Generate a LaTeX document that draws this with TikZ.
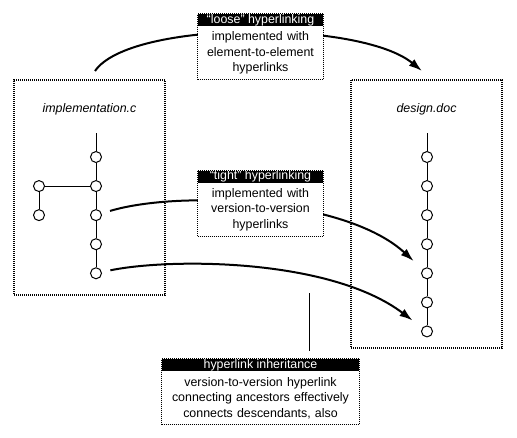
\documentclass[tikz,border=0pt]{standalone}
\usepackage{fontspec}
\setmainfont{Liberation Sans}
\usetikzlibrary{arrows.meta, positioning, fit}

\begin{document}
\begin{tikzpicture}[
    x=0.75pt, y=-0.75pt,
    docbox/.style={rectangle, draw, line width=1.5pt, dash pattern=on 0.75pt off 0.75pt, minimum width=113.25pt},
    fname/.style={font=\fontsize{9.3pt}{11.6pt}\selectfont\itshape},
    vnode/.style={circle, draw, fill=white, line width=0.75pt, inner sep=0pt, minimum size=8.25pt},
    headbar/.style={rectangle, fill=black, text=white, inner sep=0pt, minimum width=#1, text height=7pt, text depth=2pt, font=\fontsize{9.3pt}{11.6pt}\selectfont},
    notebody/.style={rectangle, fill=white, inner xsep=0pt, inner ysep=0pt, text width=#1, minimum height=39.75pt, align=center, font=\fontsize{9.3pt}{11.6pt}\selectfont},
    noteframe/.style={rectangle, draw, line width=0.75pt, dash pattern=on 0.75pt off 0.75pt, inner sep=0pt},
    vlink/.style={draw, line width=0.75pt},
    hyper/.style={draw, -{Latex[length=10pt, width=6.5pt]}, line width=1.5pt}
]
    \useasboundingbox (0,0) rectangle (517,437);

    % Document boxes
    \node [docbox, minimum height=161.25pt] (implbox) at (89.5,187.5) {};
    \node [docbox, minimum height=201pt] (designbox) at (426.5,214) {};
    \node [fname, on grid, below=15pt of implbox.north] (impltitle) {implementation.c};
    \node [fname, on grid, below=15pt of designbox.north] (designtitle) {design.doc};

    % Version tree of implementation.c
    \node [vnode] (i1) at (96,157) {};
    \node [vnode, on grid, below=21.8pt of i1] (i2) {};
    \node [vnode, on grid, below=21.8pt of i2] (i3) {};
    \node [vnode, on grid, below=21.8pt of i3] (i4) {};
    \node [vnode, on grid, below=21.8pt of i4] (i5) {};
    \node [vnode, on grid, left=42.75pt of i2] (j1) {};
    \node [vnode, on grid, below=21.8pt of j1] (j2) {};
    \coordinate [on grid, above=18pt of i1] (itop);

    \path [vlink] (itop) -- (i1);
    \path [vlink] (i1) -- (i2);
    \path [vlink] (i2) -- (i3);
    \path [vlink] (i3) -- (i4);
    \path [vlink] (i4) -- (i5);
    \path [vlink] (i2) -- (j1);
    \path [vlink] (j1) -- (j2);

    % Version chain of design.doc
    \node [vnode] (r1) at (427,157) {};
    \node [vnode, on grid, below=21.8pt of r1] (r2) {};
    \node [vnode, on grid, below=21.8pt of r2] (r3) {};
    \node [vnode, on grid, below=21.8pt of r3] (r4) {};
    \node [vnode, on grid, below=21.8pt of r4] (r5) {};
    \node [vnode, on grid, below=21.8pt of r5] (r6) {};
    \node [vnode, on grid, below=21.8pt of r6] (r7) {};
    \coordinate [on grid, above=18pt of r1] (rtop);

    \path [vlink] (rtop) -- (r1);
    \path [vlink] (r1) -- (r2);
    \path [vlink] (r2) -- (r3);
    \path [vlink] (r3) -- (r4);
    \path [vlink] (r4) -- (r5);
    \path [vlink] (r5) -- (r6);
    \path [vlink] (r6) -- (r7);

    % Hyperlinks
    \coordinate (loosefrom) at (95,71);
    \coordinate (looseto) at (422,71);
    \path [hyper] (loosefrom) .. controls (130,20) and (360,20) .. (looseto);
    \path [hyper, shorten <=6.5pt, shorten >=9pt] (i3) .. controls (180,190) and (345,198) .. (r5);
    \path [hyper, shorten <=6.5pt, shorten >=9pt] (i5) .. controls (170,258) and (330,258) .. (r7);

    % Notes
    \node [headbar=93.75pt] (loosehead) at (260.5,20) {“loose” hyperlinking};
    \node [notebody=93.75pt, below=0pt of loosehead] (loosebody) {implemented with\\element-to-element\\hyperlinks};
    \node [noteframe, fit=(loosehead)(loosebody)] (loosebox) {};

    \node [headbar=93.75pt] (tighthead) at (260.5,176.5) {“tight” hyperlinking};
    \node [notebody=93.75pt, below=0pt of tighthead] (tightbody) {implemented with\\version-to-version\\hyperlinks};
    \node [noteframe, fit=(tighthead)(tightbody)] (tightbox) {};

    \node [headbar=147.75pt] (inhhead) at (260.5,365) {hyperlink inheritance};
    \node [notebody=147.75pt, below=0pt of inhhead] (inhbody) {version-to-version hyperlink\\connecting ancestors effectively\\connects descendants, also};
    \node [noteframe, fit=(inhhead)(inhbody)] (inhbox) {};

    \coordinate (inhfrom) at (309,293);
    \path [vlink, shorten >=5.25pt] (inhfrom) -- (inhfrom |- inhbox.north);
\end{tikzpicture}
\end{document}
